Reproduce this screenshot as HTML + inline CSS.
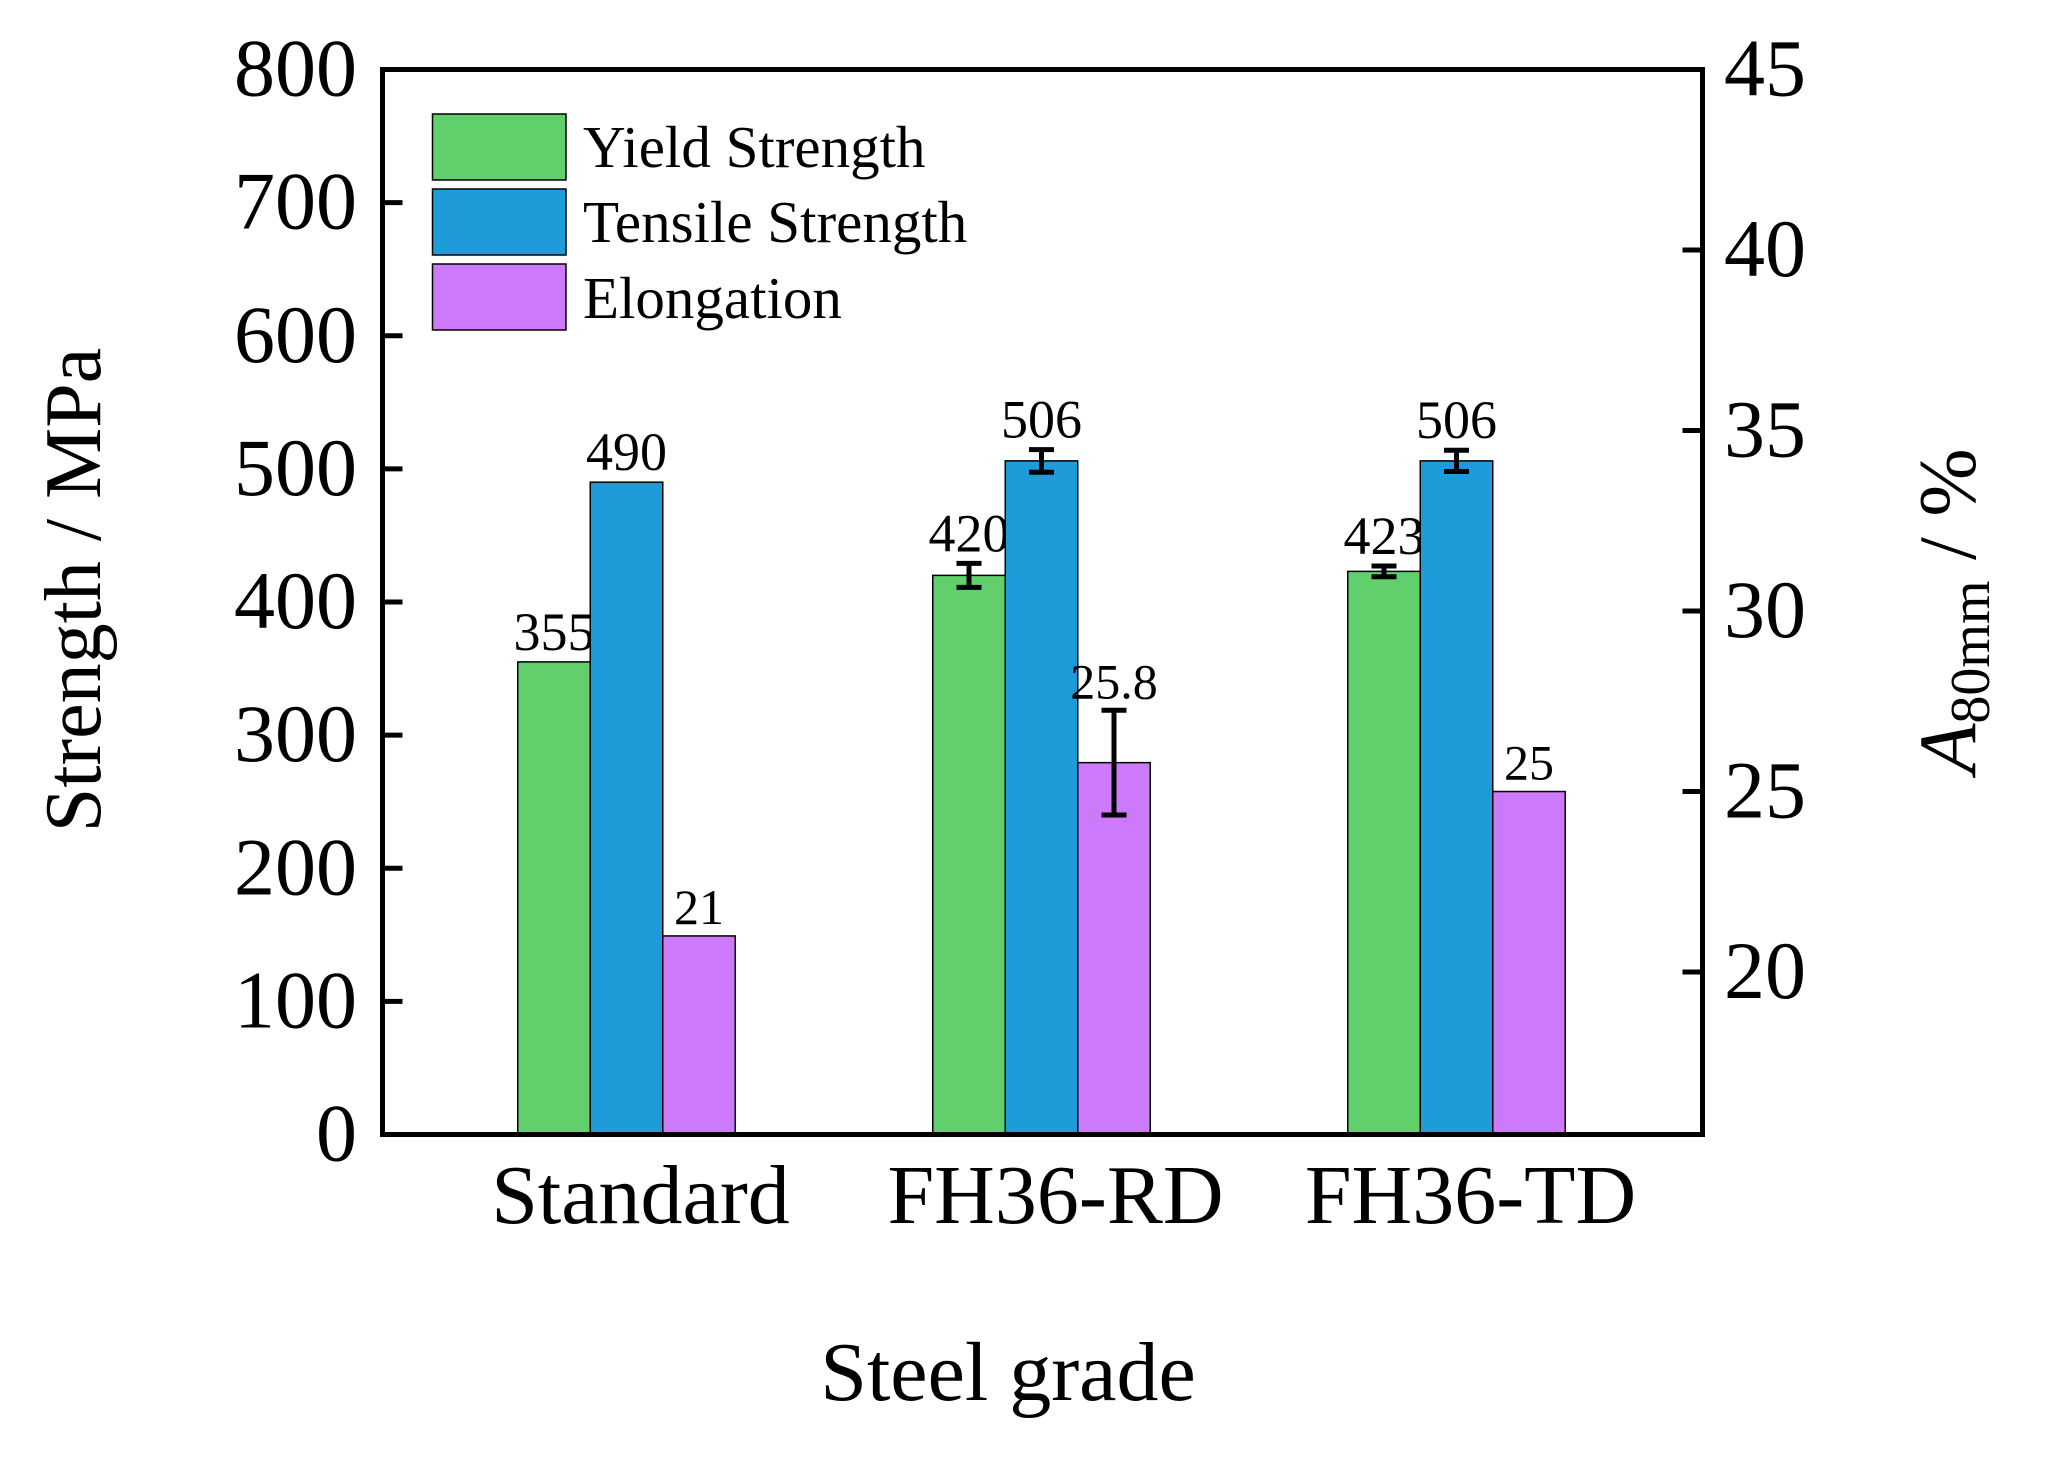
<!DOCTYPE html>
<html><head><meta charset="utf-8"><style>
html,body{margin:0;padding:0;background:#fff;}
svg{display:block;font-family:"Liberation Serif","Times New Roman",serif;}
</style></head><body>
<svg id="chart" width="2048" height="1462" viewBox="0 0 2048 1462" xmlns="http://www.w3.org/2000/svg">
<rect x="0" y="0" width="2048" height="1462" fill="#fff"/>
<g id="bars"></g>
<g id="axes"></g>
<g>
  <rect x="432.5" y="114" width="133.5" height="66" fill="#61cf6b" stroke="#000" stroke-width="1.5"/>
  <text x="583" y="167" font-size="59">Yield Strength</text>
  <rect x="432.5" y="189" width="133.5" height="66" fill="#1e9bd8" stroke="#000" stroke-width="1.5"/>
  <text x="583" y="242" font-size="59">Tensile Strength</text>
  <rect x="432.5" y="264" width="133.5" height="66" fill="#cd79fc" stroke="#000" stroke-width="1.5"/>
  <text x="583" y="318" font-size="59">Elongation</text>
</g>
<text x="1008" y="1400" font-size="84" text-anchor="middle">Steel grade</text>
<text transform="translate(100,590) rotate(-90)" font-size="80" text-anchor="middle">Strength / MPa</text>
<text transform="translate(1975,611) rotate(-90)" font-size="82" text-anchor="middle"><tspan font-style="italic">A</tspan><tspan font-size="56" dy="14">80mm</tspan><tspan dy="-14"> / %</tspan></text>
</svg>
<script>
const categories = ["Standard", "FH36-RD", "FH36-TD"];
const yieldVals = [355, 420, 423];
const yieldErr = [0, 9, 4];
const tensileVals = [490, 506, 506];
const tensileErr = [0, 8.5, 8];
const elongVals = [21, 25.8, 25];
const elongErr = [0, 1.45, 0];
const yieldLabels = ["355", "420", "423"];
const tensileLabels = ["490", "506", "506"];
const elongLabels = ["21", "25.8", "25"];
const leftTicks = [0, 100, 200, 300, 400, 500, 600, 700, 800];
const rightTicks = [20, 25, 30, 35, 40, 45];

const NS = "http://www.w3.org/2000/svg";
const L = 382.5, R = 1702.5, T = 69.5, B = 1134.5;
const yL = v => B - (v - 0) / 800 * (B - T);
const yR = v => B - (v - 15.5) / (45 - 15.5) * (B - T);
const groupStep = 415;
const xC = i => L + 244 + i * groupStep;
const bw = 72.5;

function mk(tag, attrs, parent) {
  const e = document.createElementNS(NS, tag);
  for (const k in attrs) e.setAttribute(k, attrs[k]);
  parent.appendChild(e);
  return e;
}
const bars = document.getElementById('bars');
const axes = document.getElementById('axes');

const series = [
  {vals: yieldVals, err: yieldErr, labels: yieldLabels, color: "#61cf6b", off: -1, sc: yL, name: "yield", fs: 54},
  {vals: tensileVals, err: tensileErr, labels: tensileLabels, color: "#1e9bd8", off: 0, sc: yL, name: "tensile", fs: 54},
  {vals: elongVals, err: elongErr, labels: elongLabels, color: "#cd79fc", off: 1, sc: yR, name: "elongation", fs: 50}
];
series.forEach(s => {
  categories.forEach((c, i) => {
    const cx = xC(i) + s.off * bw;
    const top = s.sc(s.vals[i]);
    const r = mk('rect', {x: cx - bw / 2, y: top, width: bw, height: B - top, fill: s.color, stroke: '#000', 'stroke-width': 1.5}, bars);
    
    
    let labelBase = top;
    if (s.err[i] > 0) {
      const y1 = s.sc(s.vals[i] + s.err[i]), y2 = s.sc(s.vals[i] - s.err[i]);
      const g = mk('g', {stroke: '#000', 'stroke-width': 5}, bars);
      
      
      mk('line', {x1: cx, x2: cx, y1: y1, y2: y2}, g);
      mk('line', {x1: cx - 12.5, x2: cx + 12.5, y1: y1, y2: y1}, g);
      mk('line', {x1: cx - 12.5, x2: cx + 12.5, y1: y2, y2: y2}, g);
      labelBase = y1;
    }
    const t = mk('text', {x: cx, y: labelBase - 12, 'font-size': s.fs, 'text-anchor': 'middle'}, bars);
    t.textContent = s.labels[i];
    
    
  });
});

// frame
const frame = mk('rect', {x: L, y: T, width: R - L, height: B - T, fill: 'none', stroke: '#000', 'stroke-width': 5}, axes);



leftTicks.forEach(v => {
  const y = yL(v);
  if (v > 0 && v < 800) {
    const tk = mk('line', {x1: L, x2: L + 20, y1: y, y2: y, stroke: '#000', 'stroke-width': 5}, axes);
    
    
  }
  const t = mk('text', {x: 357, y: y + 26, 'font-size': 82, 'text-anchor': 'end'}, axes);
  t.textContent = v;
  
  
});
rightTicks.forEach(v => {
  const y = yR(v);
  if (v < 45) {
    const tk = mk('line', {x1: R - 20, x2: R, y1: y, y2: y, stroke: '#000', 'stroke-width': 5}, axes);
    
    
  }
  const t = mk('text', {x: 1724, y: y + 26, 'font-size': 82}, axes);
  t.textContent = v;
  
  
});
categories.forEach((c, i) => {
  const t = mk('text', {x: xC(i) + 14, y: 1223, 'font-size': 84, 'text-anchor': 'middle'}, axes);
  t.textContent = c;
  
  
});
</script>
</body></html>
